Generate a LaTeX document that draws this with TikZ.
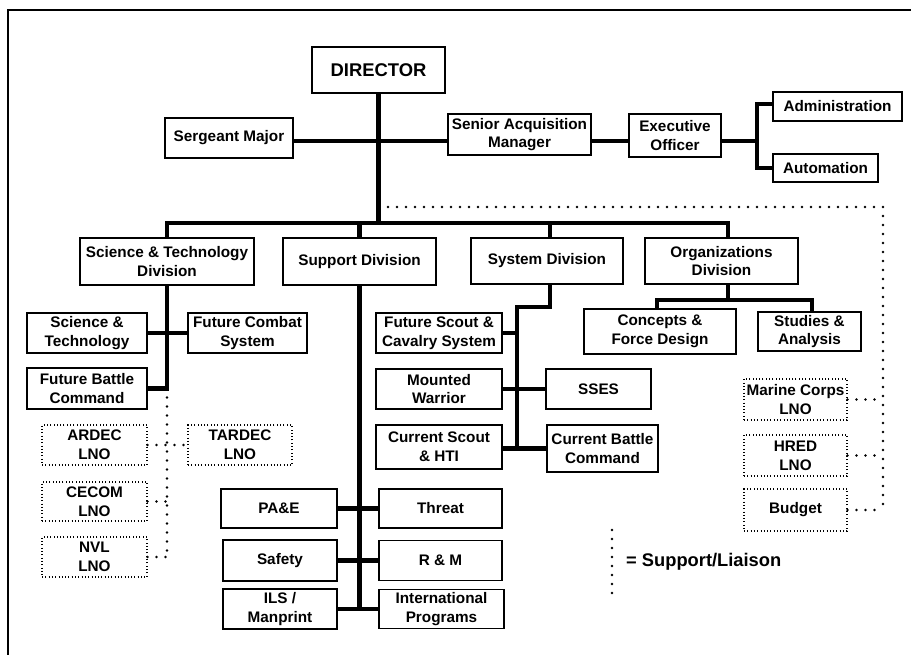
\documentclass[tikz,border=0pt]{standalone}
\usepackage{fontspec}
\setmainfont{Liberation Sans}
\begin{document}
\begin{tikzpicture}[x=1pt,y=-1pt,
  box/.style={draw, line width=1.2pt, inner sep=0pt, align=center,
    font=\fontsize{15.3}{18.8}\selectfont\bfseries},
  lbox/.style={box, line width=1.1pt, dash pattern=on 0.9pt off 2.4pt},
  conn/.style={line width=4.6pt, line join=miter},
  liaison/.style={line width=2.7pt, line cap=round, dash pattern=on 0pt off 9pt}]
\useasboundingbox (0,0) rectangle (911,655);
\draw[line width=1.6pt] (8,655) -- (8,10) -- (911,10);

% top level
\node[box, minimum width=133pt, minimum height=46pt, font=\fontsize{18.4}{22}\selectfont\bfseries] (dir) at (378.5,70) {DIRECTOR};
\node[box, minimum width=128pt, minimum height=40pt] (sgt) at (229,138) {Sergeant Major};
\node[box, minimum width=143pt, minimum height=41pt] (saq) at (519.5,134.5) {Senior Acquisition\\Manager};
\node[box, minimum width=92pt, minimum height=43pt] (eo) at (675,135.5) {Executive\\Officer};
\node[box, minimum width=129pt, minimum height=29pt] (adm) at (837.5,106.5) {Administration};
\node[box, minimum width=105pt, minimum height=28pt] (aut) at (825.5,168) {Automation};

% divisions
\node[box, minimum width=174pt, minimum height=47pt] (stdiv) at (167,261.5) {Science \& Technology\\Division};
\node[box, minimum width=153pt, minimum height=47pt] (supdiv) at (359.5,261.5) {Support Division};
\node[box, minimum width=152pt, minimum height=46pt] (sysdiv) at (547,261) {System Division};
\node[box, minimum width=153pt, minimum height=46pt] (odiv) at (721.5,261) {Organizations\\Division};

% S&T branch
\node[box, minimum width=120pt, minimum height=40pt] (sct) at (87,333) {Science \&\\Technology};
\node[box, minimum width=119pt, minimum height=40pt] (fcs) at (247.5,333) {Future Combat\\System};
\node[box, minimum width=120pt, minimum height=41pt] (fbc) at (87,388.5) {Future Battle\\Command};
\node[lbox, minimum width=105pt, minimum height=40pt] (ardec) at (94.5,445) {ARDEC\\LNO};
\node[lbox, minimum width=104pt, minimum height=40pt] (tardec) at (240,445) {TARDEC\\LNO};
\node[lbox, minimum width=105pt, minimum height=39pt] (cecom) at (94.5,501.5) {CECOM\\LNO};
\node[lbox, minimum width=105pt, minimum height=40pt] (nvl) at (94.5,557) {NVL\\LNO};

% System branch
\node[box, minimum width=126pt, minimum height=40pt] (fsc) at (439,333) {Future Scout \&\\Cavalry System};
\node[box, minimum width=126pt, minimum height=40pt] (mw) at (439,389) {Mounted\\Warrior};
\node[box, minimum width=105pt, minimum height=40pt] (sses) at (598.5,389) {SSES};
\node[box, minimum width=126pt, minimum height=44pt] (cst) at (439,447) {Current Scout\\\& HTI};
\node[box, minimum width=111pt, minimum height=47pt] (cbc) at (602.5,448.5) {Current Battle\\Command};

% Support branch
\node[box, minimum width=116pt, minimum height=39pt] (pae) at (279,508.5) {PA\&E};
\node[box, minimum width=123pt, minimum height=39pt] (thr) at (440.5,508.5) {Threat};
\node[box, minimum width=114pt, minimum height=41pt] (saf) at (280,560.5) {Safety};
\node[box, minimum width=123pt, minimum height=40pt] (rm) at (440.5,560.5) {R \& M};
\node[box, minimum width=114pt, minimum height=40pt] (ils) at (280,609) {ILS /\\Manprint};
\node[box, minimum width=125pt, minimum height=39pt] (intl) at (441.5,609) {International\\Programs};

% Organizations branch
\node[box, minimum width=152pt, minimum height=45pt] (cfd) at (660,331.5) {Concepts \&\\Force Design};
\node[box, minimum width=103pt, minimum height=39pt] (sta) at (809.5,331.5) {Studies \&\\Analysis};

% liaison boxes right
\node[lbox, minimum width=103pt, minimum height=41pt] (mc) at (795.5,399.5) {Marine Corps\\LNO};
\node[lbox, minimum width=103pt, minimum height=41pt] (hred) at (795.5,455.5) {HRED\\LNO};
\node[lbox, minimum width=103pt, minimum height=42pt] (bud) at (795.5,510) {Budget};

% coordinates
\coordinate (j0) at (379,141);
\coordinate (busL) at (167,223);
\coordinate (busR) at (728,223);
\coordinate (eoJ) at (757,141);
\coordinate (admJ) at (757,104);
\coordinate (autJ) at (757,168);
\coordinate (stJ) at (167,388.5);
\coordinate (supJ) at (359.5,609);
\coordinate (sysA) at (550,307);
\coordinate (sysB) at (517,307);
\coordinate (sysC) at (517,448.5);
\coordinate (orgJ) at (728,300);
\coordinate (orgL) at (657,300);
\coordinate (orgR) at (812,300);
\coordinate (dA) at (388,207);
\coordinate (dB) at (883,207);
\coordinate (dC) at (883,512);
\coordinate (lgA) at (612,530);
\coordinate (lgB) at (612,593);

% solid connectors
\draw[conn] (dir.south) -- (dir.south |- busL);
\draw[conn] (sgt.east |- j0) -- (saq.west |- j0);
\draw[conn] (saq.east |- j0) -- (eo.west |- j0);
\draw[conn] (eo.east |- eoJ) -- (eoJ);
\draw[conn] (adm.west |- admJ) -- (admJ) -- (autJ) -- (aut.west |- autJ);
\draw[conn] (stdiv.north) -- (busL) -- (busR) -- (busR |- odiv.north);
\draw[conn] (supdiv.north |- busL) -- (supdiv.north);
\draw[conn] (sysA |- busL) -- (sysA |- sysdiv.north);
\draw[conn] (stdiv.south) -- (stJ) -- (fbc.east);
\draw[conn] (sct.east) -- (fcs.west);
\draw[conn] (supdiv.south) -- (supJ);
\draw[conn] (pae.east) -- (thr.west);
\draw[conn] (saf.east) -- (rm.west);
\draw[conn] (ils.east) -- (intl.west);
\draw[conn] (sysA |- sysdiv.south) -- (sysA) -- (sysB) -- (sysC);
\draw[conn] (fsc.east) -- (fsc.east -| sysB);
\draw[conn] (mw.east) -- (sses.west);
\draw[conn] (cst.east |- sysC) -- (cbc.west);
\draw[conn] (orgJ |- odiv.south) -- (orgJ);
\draw[conn] (orgL |- cfd.north) -- (orgL) -- (orgR) -- (orgR |- sta.north);

% liaison connectors
\draw[liaison] (dA) -- (dB) -- (dC);
\draw[liaison] (mc.east) -- (mc.east -| dB);
\draw[liaison] (hred.east) -- (hred.east -| dB);
\draw[liaison] (bud.east) -- (bud.east -| dB);
\draw[liaison] (stJ) -- (nvl.east -| stJ);
\draw[liaison] (ardec.east) -- (tardec.west);
\draw[liaison] (cecom.east) -- (cecom.east -| stJ);
\draw[liaison] (nvl.east) -- (nvl.east -| stJ);

% legend
\draw[liaison] (lgA) -- (lgB);
\node[anchor=west, inner sep=0pt, font=\fontsize{18.3}{22}\selectfont\bfseries] (lg) at (626,562) {= Support/Liaison};
\end{tikzpicture}
\end{document}
